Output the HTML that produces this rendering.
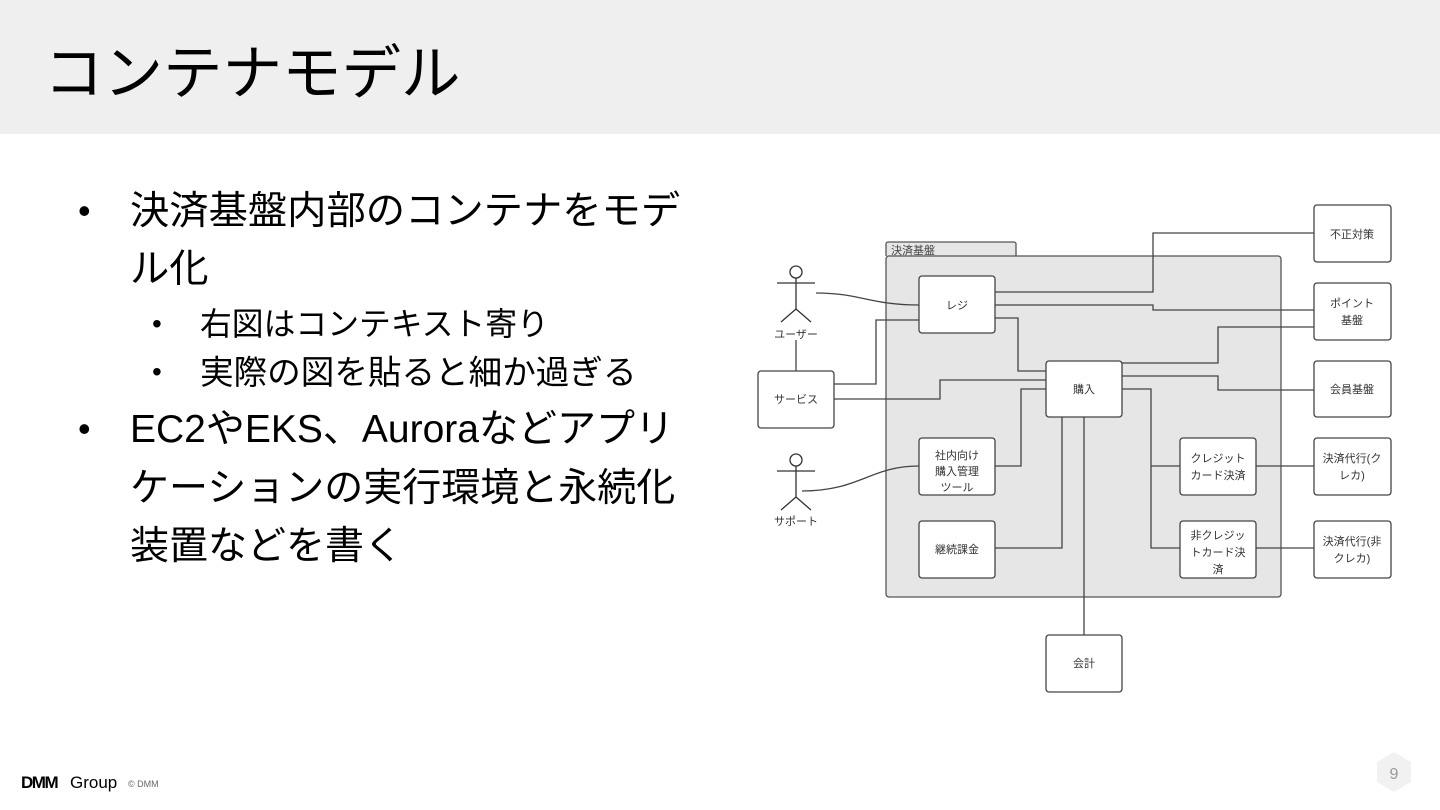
<!DOCTYPE html>
<html><head><meta charset="utf-8"><style>
body{margin:0;width:1440px;height:810px;overflow:hidden;background:#fff;position:relative;font-family:"Liberation Sans","Noto Sans CJK JP",sans-serif;color:#000}
.hd{position:absolute;left:0;top:0;width:1440px;height:134px;background:#efefef}
.t{position:absolute;white-space:nowrap;line-height:1}
</style></head><body>
<div class="hd"></div>
<div class="t" style="left:44px;top:44px;font-size:59.5px">コンテナモデル</div>
<div class="t" style="left:78px;top:193px;font-size:36px">•</div>
<div class="t" style="left:130px;top:192px;font-size:39.3px">決済基盤内部のコンテナをモデ</div>
<div class="t" style="left:130px;top:250px;font-size:39.3px">ル化</div>
<div class="t" style="left:152px;top:310px;font-size:28px">•</div>
<div class="t" style="left:200px;top:309px;font-size:31.8px">右図はコンテキスト寄り</div>
<div class="t" style="left:152px;top:358px;font-size:28px">•</div>
<div class="t" style="left:200px;top:357px;font-size:33.6px">実際の図を貼ると細か過ぎる</div>
<div class="t" style="left:78px;top:411px;font-size:36px">•</div>
<div class="t" style="left:130px;top:410px;font-size:39px">EC2やEKS、Auroraなどアプリ</div>
<div class="t" style="left:130px;top:469px;font-size:39px">ケーションの実行環境と永続化</div>
<div class="t" style="left:130px;top:527px;font-size:39px">装置などを書く</div>

<svg style="position:absolute;left:0;top:0" width="1440" height="810" font-family="Liberation Sans, Noto Sans CJK JP, sans-serif" font-size="11" fill="none" stroke="#555" stroke-width="1.3">
<path d="M886 256V244a2 2 0 0 1 2-2h126a2 2 0 0 1 2 2v12" fill="#e6e6e6"/>
<rect x="886" y="256" width="395" height="341" rx="3" fill="#e6e6e6"/>
<text x="891" y="254" fill="#444" stroke="none" font-size="11">決済基盤</text>
<g stroke="#444">
<path d="M816 293C860 293 870 305 919 305"/>
<path d="M995 292H1153V233H1314"/>
<path d="M995 305H1153V310H1314"/>
<path d="M995 318H1018V371H1046"/>
<path d="M834 384H876V320H919"/>
<path d="M834 399H940V380H1046"/>
<path d="M1122 363H1218V327H1314"/>
<path d="M1122 376H1218V390H1314"/>
<path d="M1122 389H1151V548H1180M1151 466H1180"/>
<path d="M1046 389H1021V466H995"/>
<path d="M1062 417V548H995"/>
<path d="M1084 417V635"/>
<path d="M802 491C860 491 870 466 919 466"/>
<path d="M1256 466H1314M1256 548H1314"/>
<path d="M796 340V371"/>
</g>
<g fill="#fff" stroke="#444">
<rect x="919" y="276" width="76" height="57" rx="3"/>
<rect x="1046" y="361" width="76" height="56" rx="3"/>
<rect x="919" y="438" width="76" height="57" rx="3"/>
<rect x="919" y="521" width="76" height="57" rx="3"/>
<rect x="1180" y="438" width="76" height="57" rx="3"/>
<rect x="1180" y="521" width="76" height="57" rx="3"/>
<rect x="758" y="371" width="76" height="57" rx="3"/>
<rect x="1046" y="635" width="76" height="57" rx="3"/>
<rect x="1314" y="205" width="77" height="57" rx="3"/>
<rect x="1314" y="283" width="77" height="57" rx="3"/>
<rect x="1314" y="361" width="77" height="56" rx="3"/>
<rect x="1314" y="438" width="77" height="57" rx="3"/>
<rect x="1314" y="521" width="77" height="57" rx="3"/>
</g>
<g stroke="#333">
<circle cx="796" cy="272" r="6" fill="#fff"/>
<path d="M777 283H815M796 278V309M781 322L796 309L811 322"/>
<circle cx="796" cy="460" r="6" fill="#fff"/>
<path d="M777 471H815M796 466V497M781 510L796 497L811 510"/>
</g>
<g fill="#333" stroke="none" text-anchor="middle">
<text x="796" y="338">ユーザー</text>
<text x="796" y="525">サポート</text>
<text x="957" y="309">レジ</text>
<text x="1084" y="393">購入</text>
<text x="957" y="459">社内向け</text><text x="957" y="475">購入管理</text><text x="957" y="491">ツール</text>
<text x="957" y="553">継続課金</text>
<text x="1218" y="462">クレジット</text><text x="1218" y="479">カード決済</text>
<text x="1218" y="539">非クレジッ</text><text x="1218" y="556">トカード決</text><text x="1218" y="573">済</text>
<text x="796" y="403">サービス</text>
<text x="1084" y="667">会計</text>
<text x="1352" y="238">不正対策</text>
<text x="1352" y="307">ポイント</text><text x="1352" y="324">基盤</text>
<text x="1352" y="393">会員基盤</text>
<text x="1352" y="462">決済代行(ク</text><text x="1352" y="479">レカ)</text>
<text x="1352" y="545">決済代行(非</text><text x="1352" y="562">クレカ)</text>
</g>
<polygon points="1394,752 1411,762 1411,782 1394,792 1377,782 1377,762" fill="#f1f1f1" stroke="none"/>
<text x="1394" y="779" fill="#999" stroke="none" font-size="16" text-anchor="middle">9</text>
<text x="21" y="788" fill="#000" stroke="none" font-size="17" font-weight="bold" letter-spacing="-1.5">DMM</text>
<text x="70" y="788" fill="#000" stroke="none" font-size="17">Group</text>
<text x="128" y="787" fill="#666" stroke="none" font-size="9">© DMM</text>
</svg>
</body></html>
